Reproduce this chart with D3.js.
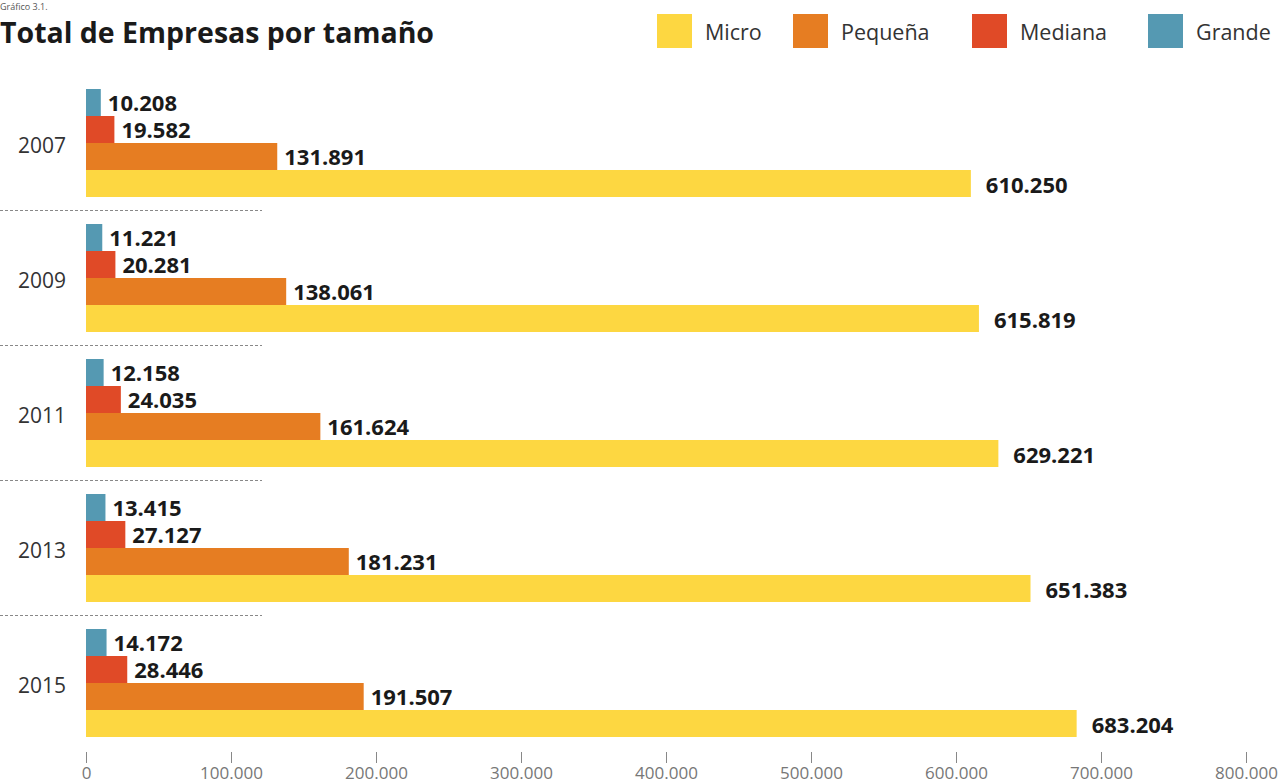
<!DOCTYPE html>
<html>
<head>
<meta charset="utf-8">
<script src="https://cdn.jsdelivr.net/npm/d3@7"></script>
<style>
  body { margin: 0; background: #fff; }
  svg { display: block; font-family: "Open Sans", sans-serif; }
</style>
</head>
<body>
<svg id="chart" width="1283" height="784"></svg>
<script>
// data
const years = ["2007", "2009", "2011", "2013", "2015"];
const sizes = ["Grande", "Mediana", "Pequeña", "Micro"];
const micro   = [610250, 615819, 629221, 651383, 683204];
const pequena = [131891, 138061, 161624, 181231, 191507];
const mediana = [19582, 20281, 24035, 27127, 28446];
const grande  = [10208, 11221, 12158, 13415, 14172];
const xTicks = [0, 100000, 200000, 300000, 400000, 500000, 600000, 700000, 800000];
const legendOrder = ["Micro", "Pequeña", "Mediana", "Grande"];

const seriesValues = {"Grande": grande, "Mediana": mediana, "Pequeña": pequena, "Micro": micro};
const colors = {"Micro": "#fdd741", "Pequeña": "#e67d22", "Mediana": "#e04a27", "Grande": "#5599b2"};

const svg = d3.select("#chart");
const fmt = d3.formatLocale({decimal: ",", thousands: ".", grouping: [3], currency: ["", ""]}).format(",d");

const x = d3.scaleLinear()
    .domain([0, 800000])
    .range([86, 1246]);

const y0 = d3.scaleBand()
    .domain(years)
    .range([89, 737])
    .paddingInner(0.2)
    .paddingOuter(0);

const y1 = d3.scaleBand()
    .domain(sizes)
    .range([0, y0.bandwidth()]);

// caption at top
svg.append("text")
    .attr("x", 0).attr("y", 10)
    .attr("font-size", 9)
    .attr("fill", "#555")
    .text("Gráfico 3.1.");

// title
svg.append("text")
    .attr("x", 0).attr("y", 43)
    .attr("font-size", 28.5)
    .attr("font-weight", 700)
    .attr("fill", "#1a1a1a")
    .text("Total de Empresas por tamaño");

// legend
const legendX = [657, 793, 972, 1148];
const legend = svg.append("g").selectAll("g")
    .data(legendOrder)
    .join("g")
    .attr("transform", (d, i) => `translate(${legendX[i]},14)`);
legend.append("rect")
    .attr("width", 35).attr("height", 34)
    .attr("fill", d => colors[d]);
legend.append("text")
    .attr("x", 48).attr("y", 18)
    .attr("dy", "0.35em")
    .attr("font-size", 21.5)
    .attr("fill", "#333")
    .text(d => d);

// groups
const groups = svg.append("g").selectAll("g")
    .data(years)
    .join("g")
    .attr("transform", d => `translate(0,${y0(d)})`);

groups.append("text")
    .attr("x", 42)
    .attr("y", y0.bandwidth() / 2 + 3)
    .attr("dy", "0.35em")
    .attr("text-anchor", "middle")
    .attr("font-size", 21)
    .attr("fill", "#333")
    .text(d => d);

groups.selectAll("rect")
    .data((d, i) => sizes.map(s => ({size: s, value: seriesValues[s][i]})))
    .join("rect")
    .attr("x", x(0))
    .attr("y", d => y1(d.size))
    .attr("width", d => x(d.value) - x(0))
    .attr("height", y1.bandwidth())
    .attr("fill", d => colors[d.size]);

groups.selectAll("text.val")
    .data((d, i) => sizes.map(s => ({size: s, value: seriesValues[s][i]})))
    .join("text")
    .attr("class", "val")
    .attr("x", d => x(d.value) + (d.size === "Micro" ? 15 : 7))
    .attr("y", d => y1(d.size) + y1.bandwidth() / 2 + (d.size === "Micro" ? 2 : 1))
    .attr("dy", "0.35em")
    .attr("font-size", 22)
    .attr("font-weight", 700)
    .attr("fill", "#1a1a1a")
    .text(d => fmt(d.value));

// dashed separators
svg.append("g").selectAll("line")
    .data(years.slice(1))
    .join("line")
    .attr("x1", 0).attr("x2", 262)
    .attr("y1", d => y0(d) - y0.step() * y0.paddingInner() / 2)
    .attr("y2", d => y0(d) - y0.step() * y0.paddingInner() / 2)
    .attr("stroke", "#888")
    .attr("stroke-width", 1)
    .attr("stroke-dasharray", "3,2");

// x axis
const axis = svg.append("g")
    .attr("transform", "translate(0,752)")
    .call(d3.axisBottom(x).tickValues(xTicks).tickSize(11).tickFormat(d => fmt(d)));
axis.select(".domain").remove();
axis.selectAll(".tick line").attr("stroke", "#888");
axis.selectAll(".tick text")
    .attr("y", 15)
    .attr("font-family", "Open Sans, sans-serif")
    .attr("font-size", 17)
    .attr("fill", "#777");
</script>
</body>
</html>
